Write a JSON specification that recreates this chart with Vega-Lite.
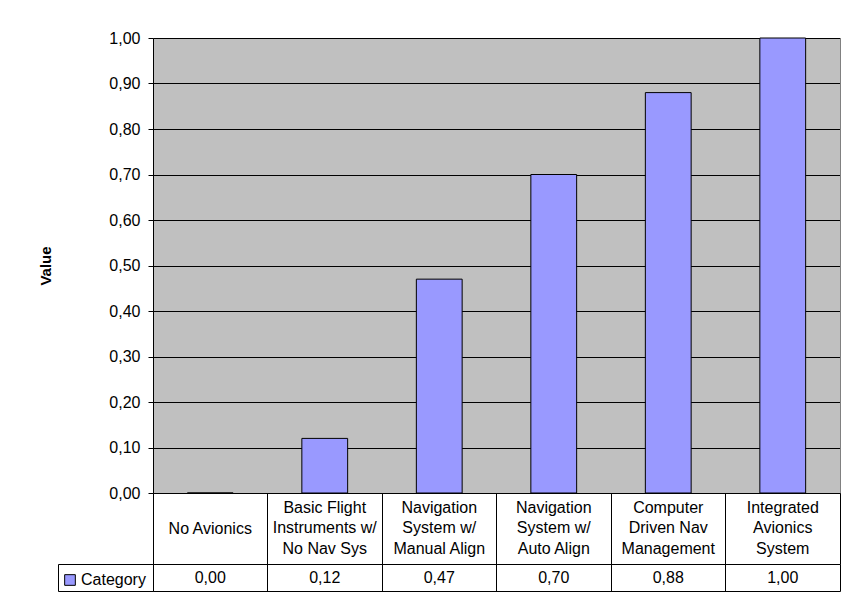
{
  "$schema": "https://vega.github.io/schema/vega-lite/v6.json",
  "background": "white",
  "padding": {"left": 38, "top": 30, "right": 12, "bottom": 22},
  "autosize": {"type": "pad"},
  "datasets": {
    "avionics": [
      {"category": "No Avionics", "series": "Category", "value": 0.00},
      {"category": "Basic Flight\nInstruments w/\nNo Nav Sys", "series": "Category", "value": 0.12},
      {"category": "Navigation\nSystem w/\nManual Align", "series": "Category", "value": 0.47},
      {"category": "Navigation\nSystem w/\nAuto Align", "series": "Category", "value": 0.70},
      {"category": "Computer\nDriven Nav\nManagement", "series": "Category", "value": 0.88},
      {"category": "Integrated\nAvionics\nSystem", "series": "Category", "value": 1.00}
    ]
  },
  "data": {"name": "avionics"},
  "columns": 2,
  "spacing": 0,
  "bounds": "flush",
  "concat": [
    {
      "width": 95, "height": 455,
      "view": {"stroke": null, "fill": null},
      "mark": {"type": "text", "text": ""},
      "encoding": {}
    },
    {
      "width": 687, "height": 455,
      "view": {"fill": "#C0C0C0", "stroke": null},
      "encoding": {
        "x": {"field": "category", "type": "nominal", "sort": null,
              "scale": {"paddingInner": 0.6, "paddingOuter": 0.3},
              "axis": {"labels": false, "ticks": false, "title": null, "grid": false, "domainColor": "black"}}
      },
      "layer": [
        {
          "mark": {"type": "bar", "stroke": "black", "strokeWidth": 1, "opacity": 1},
          "encoding": {
            "y": {"field": "value", "type": "quantitative",
                  "scale": {"domain": [0, 1], "nice": false},
                  "axis": {"title": "Value", "values": [0, 0.1, 0.2, 0.3, 0.4, 0.5, 0.6, 0.7, 0.8, 0.9, 1.0],
                           "format": ".2f", "grid": true, "gridColor": "black", "gridWidth": 1,
                           "domainColor": "black", "tickColor": "black", "tickSize": 5, "labelPadding": 8,
                           "labelFontSize": 16, "labelColor": "black", "labelFont": "Liberation Sans",
                           "titleFont": "Liberation Sans", "titleFontSize": 15, "titleFontWeight": "bold",
                           "titleColor": "black", "titlePadding": 55}},
            "color": {"field": "series", "type": "nominal", "scale": {"range": ["#9999FF"]},
                      "legend": {"title": null, "orient": "none", "legendX": 4, "legendY": 534,
                                 "symbolType": "square", "symbolSize": 114, "symbolStrokeColor": "black",
                                 "symbolStrokeWidth": 1, "symbolOpacity": 1,
                                 "labelFontSize": 16, "labelFont": "Liberation Sans", "labelColor": "black",
                                 "labelOffset": 3, "padding": 0}}
          }
        },
        {
          "mark": {"type": "text", "text": ""},
          "encoding": {
            "y": {"field": "value", "type": "quantitative",
                  "axis": {"orient": "right", "domainColor": "#808080", "labels": false, "ticks": false,
                           "grid": false, "title": null}}
          }
        }
      ],
      "resolve": {"axis": {"y": "independent"}}
    },
    {
      "width": 95, "height": 71,
      "view": {"stroke": null, "fill": null},
      "mark": {"type": "text", "text": ""},
      "encoding": {}
    },
    {
      "width": 687, "height": 71,
      "view": {"stroke": "black", "fill": "white"},
      "encoding": {
        "x": {"field": "category", "type": "nominal", "sort": null, "scale": {"type": "band", "padding": 0},
              "axis": {"orient": "top", "grid": true, "gridColor": "black", "gridWidth": 1, "bandPosition": 0,
                       "labels": false, "ticks": false, "domain": false, "title": null}},
        "text": {"field": "category", "type": "nominal"}
      },
      "layer": [
        {
          "transform": [{"filter": "indexof(datum.category, '\\n') < 0"}],
          "mark": {"type": "text", "fontSize": 16, "font": "Liberation Sans",
                   "color": "black", "baseline": "middle"}
        },
        {
          "transform": [{"filter": "indexof(datum.category, '\\n') >= 0"}],
          "mark": {"type": "text", "lineBreak": "\n", "fontSize": 16, "font": "Liberation Sans",
                   "color": "black", "lineHeight": 20.7, "baseline": "middle", "dy": -20.7}
        }
      ]
    },
    {
      "width": 95, "height": 27,
      "view": {"stroke": "black", "fill": "white"},
      "mark": {"type": "text", "text": ""},
      "encoding": {}
    },
    {
      "width": 687, "height": 27,
      "view": {"stroke": "black", "fill": "white"},
      "mark": {"type": "text", "fontSize": 16, "font": "Liberation Sans", "color": "black", "baseline": "middle"},
      "encoding": {
        "x": {"field": "category", "type": "nominal", "sort": null, "scale": {"type": "band", "padding": 0},
              "axis": {"orient": "top", "grid": true, "gridColor": "black", "gridWidth": 1, "bandPosition": 0,
                       "labels": false, "ticks": false, "domain": false, "title": null}},
        "text": {"field": "value", "type": "quantitative", "format": ".2f"}
      }
    }
  ],
  "config": {
    "locale": {"number": {"decimal": ",", "thousands": ".", "grouping": [3], "currency": ["", " €"]}},
    "font": "Liberation Sans"
  }
}
